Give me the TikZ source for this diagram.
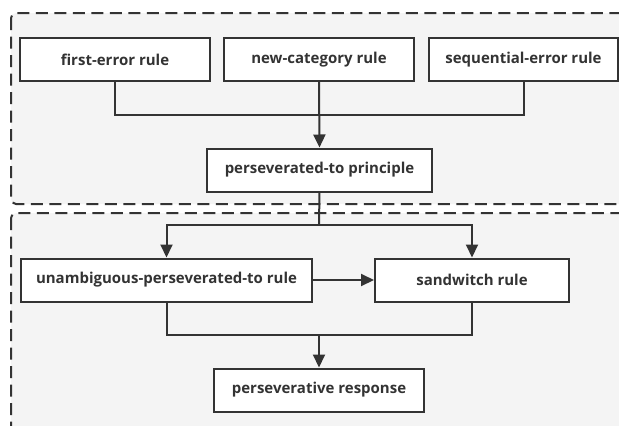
\documentclass[tikz,border=0pt]{standalone}
\usepackage{fontspec}
\setmainfont{Open Sans}
\usetikzlibrary{arrows.meta}
\definecolor{ln}{HTML}{333333}
\definecolor{bg}{HTML}{F4F4F4}
\tikzset{
  box/.style={draw=ln, line width=2pt, fill=white, minimum height=43pt, inner sep=0pt, font=\bfseries\fontsize{15}{18}\selectfont, text=ln},
  group/.style={draw=ln, line width=2pt, dash pattern=on 12pt off 6.5pt, fill=bg, rounded corners=5pt},
  conn/.style={draw=ln, line width=2pt},
  arr/.style={conn, -{Triangle[length=13pt,width=12pt]}}
}
\begin{document}
\begin{tikzpicture}[x=1pt,y=-1pt]
\clip (0,0) rectangle (619,426);
\fill[white] (0,0) rectangle (619,426);
\draw[group] (11,13) rectangle (640,204);
\draw[group] (11,213) rectangle (640,460);
\node[box, minimum width=190pt] (fe) at (115,59.5) {first-error rule};
\node[box, minimum width=190pt] (nc) at (319,59.5) {new-category rule};
\node[box, minimum width=189pt] (se) at (523.5,59.5) {sequential-error rule};
\node[box, minimum width=225pt] (pp) at (319.5,170) {perseverated-to principle};
\node[box, minimum width=291pt] (ur) at (166.5,280) {unambiguous-perseverated-to rule};
\node[box, minimum width=194pt] (sw) at (472,280) {sandwitch rule};
\node[box, minimum width=210pt] (pr) at (319,390) {perseverative response};
\coordinate (j1) at (319,115);
\coordinate (j2) at (319,225);
\coordinate (j3) at (319,335);
\draw[conn] (fe.south) |- (j1);
\draw[conn] (se.south) |- (j1);
\draw[arr] (nc.south) -- (pp.north);
\draw[conn] (pp.south) -- (j2);
\draw[arr] (j2) -| (ur.north);
\draw[arr] (j2) -| (sw.north);
\draw[arr] (ur.east) -- (sw.west);
\draw[conn] (ur.south) |- (j3);
\draw[conn] (sw.south) |- (j3);
\draw[arr] (j3) -- (pr.north);
\end{tikzpicture}
\end{document}
